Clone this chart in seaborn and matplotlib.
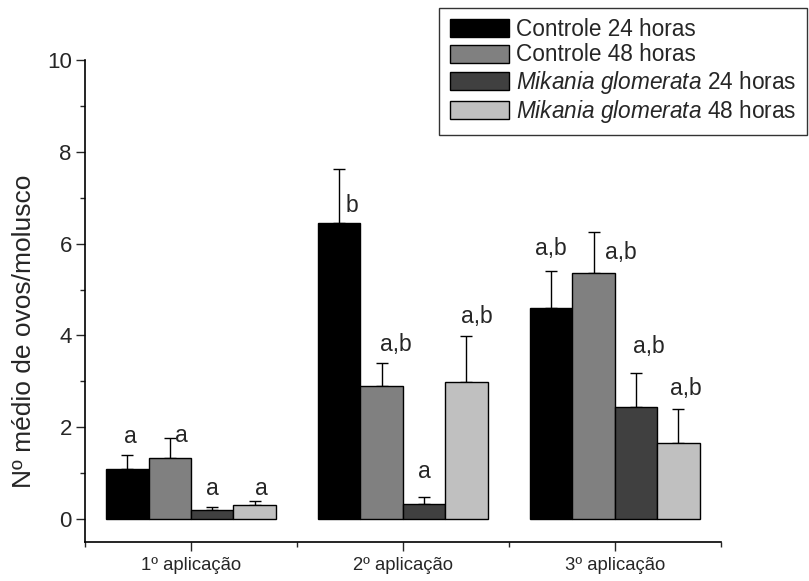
import matplotlib
matplotlib.use("Agg")
import matplotlib.pyplot as plt
import numpy as np
import pandas as pd
import seaborn as sns

# Data
aplicacoes = ["1º aplicação", "2º aplicação", "3º aplicação"]
grupos = ["Controle 24 horas", "Controle 48 horas",
          "Mikania glomerata 24 horas", "Mikania glomerata 48 horas"]
legenda = ["Controle 24 horas", "Controle 48 horas",
           r"$\it{Mikania\ glomerata}$ 24 horas",
           r"$\it{Mikania\ glomerata}$ 48 horas"]

controle_24 = [1.09, 6.46, 4.60]
controle_48 = [1.33, 2.90, 5.37]
mikania_24 = [0.20, 0.33, 2.45]
mikania_48 = [0.30, 2.98, 1.65]

erro_controle_24 = [0.30, 1.17, 0.80]
erro_controle_48 = [0.43, 0.50, 0.89]
erro_mikania_24 = [0.06, 0.15, 0.74]
erro_mikania_48 = [0.09, 1.01, 0.75]

# significance letters, their baseline height and a small sideways shift
letras = [["a", "b", "a,b"], ["a", "a,b", "a,b"],
          ["a", "a", "a,b"], ["a", "a,b", "a,b"]]
letras_y = [[1.65, 6.70, 5.75], [1.68, 3.66, 5.66],
            [0.52, 0.89, 3.61], [0.52, 4.28, 2.70]]
letras_dx = [[0.014, 0.06, 0.0], [0.057, 0.066, 0.13],
             [0.0, 0.0, 0.06], [0.033, 0.047, 0.033]]

cores = ["#000000", "#808080", "#404040", "#c0c0c0"]

valores = [controle_24, controle_48, mikania_24, mikania_48]
erros = [erro_controle_24, erro_controle_48, erro_mikania_24, erro_mikania_48]

df = pd.DataFrame({
    "aplicacao": np.tile(aplicacoes, len(grupos)),
    "grupo": np.repeat(grupos, len(aplicacoes)),
    "valor": np.concatenate(valores),
})

sns.set_style("ticks")
plt.rcParams["font.family"] = ["Liberation Sans", "DejaVu Sans"]
plt.rcParams["mathtext.fontset"] = "custom"
plt.rcParams["mathtext.rm"] = "Liberation Sans"
plt.rcParams["mathtext.it"] = "Liberation Sans:italic"

fig, ax = plt.subplots(figsize=(8.09, 5.81), dpi=100)
ax.set_position([0.105, 0.0671, 0.786, 0.8296])

sns.barplot(data=df, x="aplicacao", y="valor", hue="grupo", order=aplicacoes,
            hue_order=grupos, palette=cores, edgecolor="black", linewidth=1,
            errorbar=None, width=0.8, ax=ax, zorder=3)

# error bars (upward only) and letters on top of each bar
bar_containers = list(ax.containers)
for i, container in enumerate(bar_containers):
    xs = [p.get_x() + p.get_width() / 2 for p in container.patches]
    hs = [p.get_height() for p in container.patches]
    ax.errorbar(xs, hs, yerr=[np.zeros(len(hs)), erros[i]], fmt="none",
                ecolor="black", elinewidth=1, capsize=4, capthick=1, zorder=2)
    for j, x in enumerate(xs):
        ax.text(x + letras_dx[i][j], letras_y[i][j], letras[i][j],
                ha="center", va="baseline", fontsize=16.5)

ax.set_xlim(-0.5, 2.5)
ax.set_ylim(-0.5, 10)
ax.set_yticks([0, 2, 4, 6, 8, 10])
ax.set_yticks([1, 3, 5, 7, 9], minor=True)
ax.set_xticks([-0.5, 0.5, 1.5, 2.5], minor=True)
ax.tick_params(axis="both", which="major", length=6.5, width=1, direction="out")
ax.tick_params(axis="both", which="minor", length=3.5, width=1, direction="out")
ax.tick_params(axis="y", labelsize=16, pad=3)
ax.tick_params(axis="x", labelsize=13.3, pad=4)

ax.set_xlabel("")
ax.set_ylabel("Nº médio de ovos/molusco", fontsize=19)
ax.yaxis.set_label_coords(-0.077, 0.438)

sns.despine(ax=ax)
for s in ["left", "bottom"]:
    ax.spines[s].set_linewidth(1.2)
    ax.spines[s].set_color("black")

handles, _ = ax.get_legend_handles_labels()
ax.get_legend().remove()
leg = fig.legend(handles, legenda, loc="upper right",
                 bbox_to_anchor=(807 / 809, 1 - 8 / 581), borderaxespad=0,
                 fontsize=16.3, frameon=True, fancybox=False, shadow=False,
                 handlelength=2.6, handleheight=0.85, labelspacing=0.1,
                 handletextpad=0.35, borderpad=0.45)
leg.get_frame().set_edgecolor("black")
leg.get_frame().set_linewidth(1)

fig.savefig("out.png", dpi=100)
